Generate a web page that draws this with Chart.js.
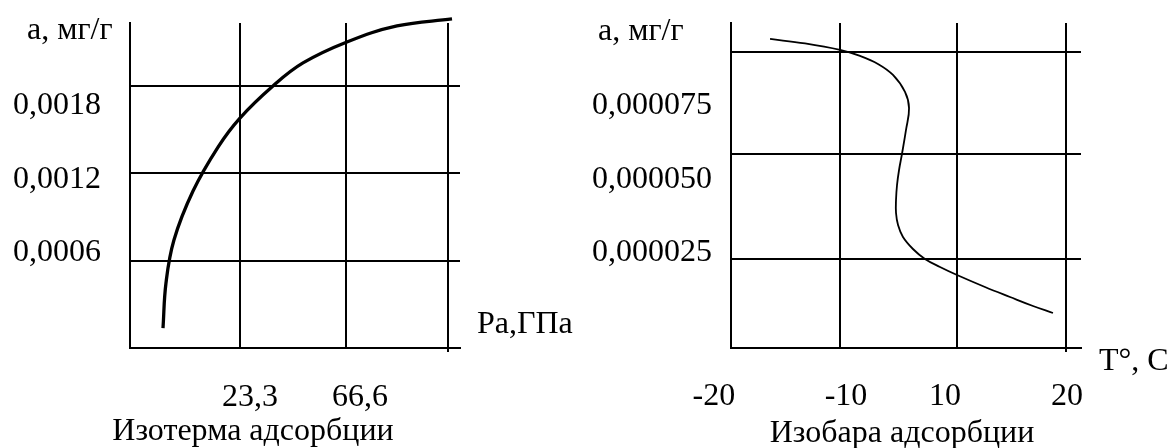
<!DOCTYPE html>
<html lang="ru">
<head>
<meta charset="utf-8">
<title>Изотерма и изобара адсорбции</title>
<script src="https://cdn.jsdelivr.net/npm/chart.js@4.4.1/dist/chart.umd.min.js"></script>
<style>
    html, body { margin: 0; padding: 0; background: #fff; }
    #page {
        position: relative;
        width: 1170px;
        height: 448px;
        overflow: hidden;
        font-family: "Liberation Serif", "Times New Roman", serif;
        color: #000;
    }
    .box { position: absolute; top: 0; width: 585px; height: 448px; }
    .txt { position: absolute; font-size: 32px; line-height: 32px; white-space: nowrap; }
    .title { width: 400px; text-align: center; }
</style>
</head>
<body>
<div id="page">
    <div class="box" style="left:0"><canvas id="isothermChart" width="585" height="448"></canvas></div>
    <div class="box" style="left:585px"><canvas id="isobarChart" width="585" height="448"></canvas></div>

    <div class="txt" style="left:27px; top:12px">а, мг/г</div>
    <div class="txt" style="left:477px; top:306px">Ра,ГПа</div>
    <div class="txt title" style="left:53px; top:413px">Изотерма адсорбции</div>

    <div class="txt" style="left:598px; top:13px">а, мг/г</div>
    <div class="txt" style="left:1099px; top:343px">T°, C</div>
    <div class="txt title" style="left:702px; top:415px">Изобара адсорбции</div>
</div>

<script>
// --- Изотерма адсорбции (x in grid cells, y in mg/g) ---
const isoGridX = [1.033, 2.029, 2.987];
const isoGridY = [0.0006, 0.0012, 0.0018];
const isoTickLabelsX = ["23,3", "66,6"];
const isoTickAtX = [1.127, 2.16];
const isoTickLabelsY = ["0,0006", "0,0012", "0,0018"];
const isoTickAtY = [0.000672, 0.001173, 0.001681];
const isoCurveX = [0.310, 0.338, 0.413, 0.592, 0.827, 1.033, 1.343, 1.625, 2.038, 2.508, 3.025];
const isoCurveY = [0.000137, 0.000446, 0.000741, 0.001077, 0.001379, 0.001578, 0.001798, 0.001956, 0.002100, 0.002210, 0.002258];

// --- Изобара адсорбции (x in grid cells, y in mg/g) ---
const barGridX = [0.972, 2.015, 2.986];
const barGridY = [0.00002194, 0.00005765, 0.00009235];
const barTickLabelsX = ["-20", "-10", "10", "20"];
const barTickAtX = [-0.152, 1.025, 1.908, 2.995];
const barTickLabelsY = ["0,000025", "0,000050", "0,000075"];
const barTickAtY = [0.000025, 0.00005, 0.000075];
const barCurveX = [0.348, 0.660, 0.972, 1.150, 1.310, 1.444, 1.551, 1.587, 1.560, 1.524, 1.498, 1.480, 1.471, 1.471, 1.489, 1.533, 1.622, 1.729, 1.863, 2.015, 2.264, 2.487, 2.692, 2.870];
const barCurveY = [0.00009677, 0.00009524, 0.00009303, 0.00009099, 0.00008827, 0.00008452, 0.00007874, 0.00007330, 0.00006582, 0.00005765, 0.00005221, 0.00004711, 0.00004201, 0.00003759, 0.00003350, 0.00002942, 0.00002534, 0.00002194, 0.00001922, 0.00001650, 0.00001242, 0.00000901, 0.00000595, 0.00000357];

const FONT = { family: '"Liberation Serif", "Times New Roman", serif', size: 32 };

function fixedTicks(values) {
    return (scale) => {
        scale.ticks = values.map((v) => ({ value: v }));
    };
}

// label axes must not push the chart area around
function noPadding(scale) {
    scale.paddingTop = 0;
    scale.paddingBottom = 0;
    scale.paddingLeft = 0;
    scale.paddingRight = 0;
}

function buildChart(canvasId, s) {
    const ctx = document.getElementById(canvasId);
    const points = s.curveX.map((x, i) => ({ x: x, y: s.curveY[i] }));
    const lastGrid = s.gridX.length - 1;

    return new Chart(ctx, {
        type: "line",
        data: {
            datasets: [{
                data: points,
                borderColor: "#000",
                borderWidth: s.lineWidth,
                tension: 0.4,
                capBezierPoints: false,
                pointRadius: 0,
                fill: false,
                clip: false
            }]
        },
        options: {
            responsive: false,
            animation: false,
            events: [],
            layout: { padding: s.padding },
            plugins: {
                legend: { display: false },
                tooltip: { enabled: false }
            },
            scales: {
                x: {
                    type: "linear",
                    position: "bottom",
                    weight: 0,
                    min: s.xMin,
                    max: s.xMax,
                    bounds: "data",
                    grid: {
                        color: "#000",
                        lineWidth: 2,
                        tickLength: 4,
                        tickColor: (c) => (c.index === lastGrid ? "#000" : "rgba(0,0,0,0)")
                    },
                    border: { display: true, color: "#000", width: 2 },
                    ticks: { display: false },
                    afterBuildTicks: fixedTicks(s.gridX),
                    afterFit: (scale) => { scale.height = 0; noPadding(scale); }
                },
                xLab: {
                    type: "linear",
                    position: "bottom",
                    weight: 1,
                    min: s.xMin,
                    max: s.xMax,
                    bounds: "data",
                    grid: { display: false, drawTicks: false },
                    border: { display: false },
                    ticks: {
                        color: "#000",
                        font: FONT,
                        padding: s.xLabelPad,
                        autoSkip: false,
                        maxRotation: 0,
                        callback: (v, i) => s.tickLabelsX[i]
                    },
                    afterBuildTicks: fixedTicks(s.tickAtX),
                    afterFit: (scale) => { scale.height = 100; noPadding(scale); }
                },
                y: {
                    type: "linear",
                    position: "left",
                    weight: 0,
                    min: s.yMin,
                    max: s.yMax,
                    bounds: "data",
                    grid: { color: "#000", lineWidth: 2, drawTicks: false },
                    border: { display: true, color: "#000", width: 2 },
                    ticks: { display: false },
                    afterBuildTicks: fixedTicks(s.gridY),
                    afterFit: (scale) => { scale.width = 0; noPadding(scale); }
                },
                yLab: {
                    type: "linear",
                    position: "left",
                    weight: 1,
                    min: s.yMin,
                    max: s.yMax,
                    bounds: "data",
                    grid: { display: false, drawTicks: false },
                    border: { display: false },
                    ticks: {
                        color: "#000",
                        font: FONT,
                        padding: s.yLabelPad,
                        labelOffset: 3,
                        autoSkip: false,
                        crossAlign: "near",
                        callback: (v, i) => s.tickLabelsY[i]
                    },
                    afterBuildTicks: fixedTicks(s.tickAtY),
                    afterFit: (scale) => { scale.width = s.leftWidth; noPadding(scale); }
                }
            }
        }
    });
}

buildChart("isothermChart", {
    gridX: isoGridX, gridY: isoGridY,
    tickAtX: isoTickAtX, tickLabelsX: isoTickLabelsX,
    tickAtY: isoTickAtY, tickLabelsY: isoTickLabelsY,
    curveX: isoCurveX, curveY: isoCurveY,
    xMin: 0, xMax: 3.1,
    yMin: 0, yMax: 0.00223,
    lineWidth: 3.3,
    leftWidth: 130,
    yLabelPad: 29,
    xLabelPad: 30,
    padding: { left: 0, top: 23, right: 125, bottom: 0 }
});

buildChart("isobarChart", {
    gridX: barGridX, gridY: barGridY,
    tickAtX: barTickAtX, tickLabelsX: barTickLabelsX,
    tickAtY: barTickAtY, tickLabelsY: barTickLabelsY,
    curveX: barCurveX, curveY: barCurveY,
    xMin: 0, xMax: 3.12,
    yMin: -0.00000833, yMax: 0.0001022,
    lineWidth: 1.8,
    leftWidth: 146,
    yLabelPad: 19,
    xLabelPad: 29,
    padding: { left: 0, top: 23, right: 89, bottom: 0 }
});
</script>
</body>
</html>
